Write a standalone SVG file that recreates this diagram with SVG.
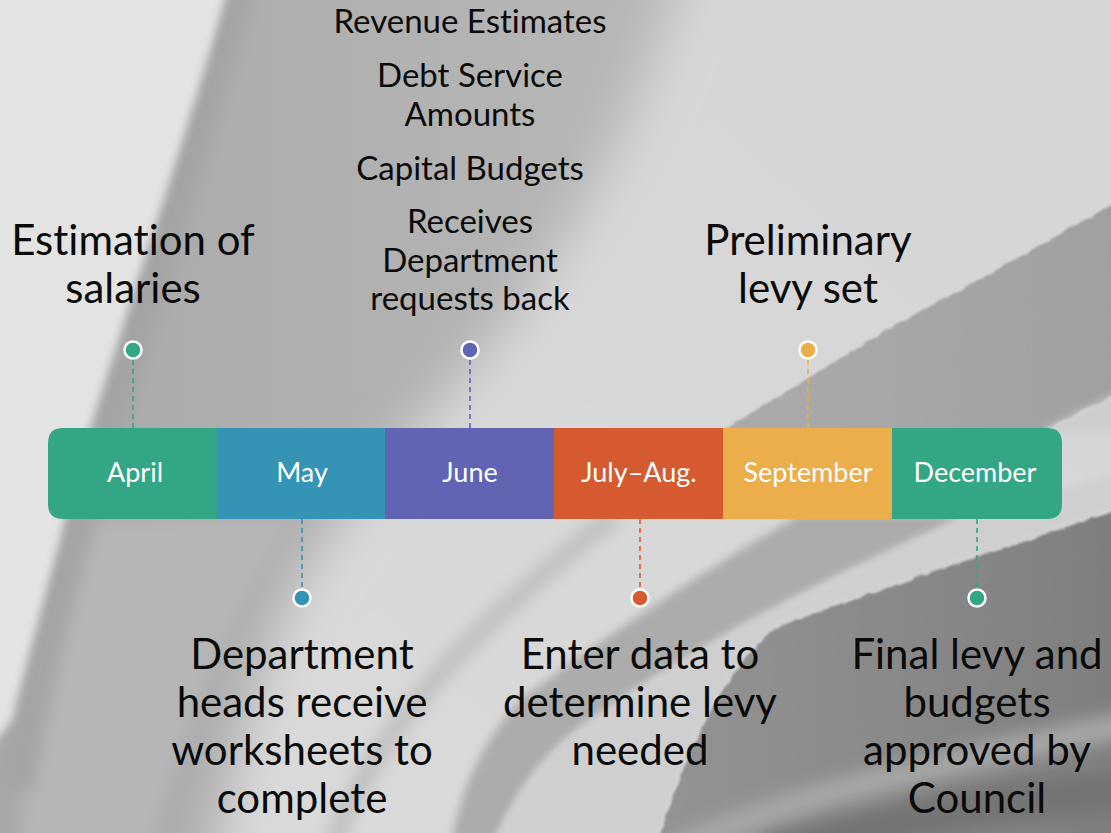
<svg xmlns="http://www.w3.org/2000/svg" width="1111" height="833" viewBox="0 0 1111 833">
  <style>
    text { font-variant-ligatures: none; }
    .big { font-family: Lato, "Liberation Sans", sans-serif; font-size: 42px; fill: #0a0a0a; text-anchor: middle; }
    .mid { font-family: Lato, "Liberation Sans", sans-serif; font-size: 33px; fill: #0a0a0a; text-anchor: middle; }
    .mon { font-family: Lato, "Liberation Sans", sans-serif; font-size: 27px; fill: #ffffff; text-anchor: middle; }
    .dot { stroke: #ffffff; stroke-width: 2.5; }
    .dash { stroke-width: 1.6; stroke-dasharray: 5 4; fill: none; }
  </style>
  <defs>
    <filter id="blur25" x="-30%" y="-30%" width="160%" height="160%"><feGaussianBlur stdDeviation="25"/></filter>
    <filter id="blur8" x="-30%" y="-30%" width="160%" height="160%"><feGaussianBlur stdDeviation="8"/></filter>
    <filter id="blur4" x="-30%" y="-30%" width="160%" height="160%"><feGaussianBlur stdDeviation="4"/></filter>
    <filter id="rough" x="-10%" y="-10%" width="120%" height="120%">
      <feTurbulence type="fractalNoise" baseFrequency="0.09" numOctaves="2" seed="3" result="n"/>
      <feDisplacementMap in="SourceGraphic" in2="n" scale="5" xChannelSelector="R" yChannelSelector="G" result="d"/>
      <feGaussianBlur in="d" stdDeviation="0.8"/>
    </filter>
    <linearGradient id="greyGrad" x1="0" y1="0" x2="1" y2="0">
      <stop offset="0" stop-color="#a8a8a8"/>
      <stop offset="0.45" stop-color="#b4b4b4"/>
      <stop offset="1" stop-color="#c2c2c2"/>
    </linearGradient>
    <linearGradient id="pageGrad" x1="0" y1="1" x2="1" y2="0">
      <stop offset="0" stop-color="#dadada"/>
      <stop offset="1" stop-color="#d5d5d5"/>
    </linearGradient>
    <linearGradient id="bandB" x1="0" y1="0" x2="1" y2="0">
      <stop offset="0" stop-color="#ababab"/>
      <stop offset="1" stop-color="#a0a0a0"/>
    </linearGradient>
    <linearGradient id="lowDark" x1="0" y1="0" x2="1" y2="0">
      <stop offset="0" stop-color="#949494"/>
      <stop offset="1" stop-color="#7e7e7e"/>
    </linearGradient>
  </defs>

  <!-- background: photo of fanned paper pages (approximation) -->
  <g id="background">
    <rect x="0" y="0" width="1111" height="833" fill="url(#greyGrad)"/>
    <!-- big light page, soft left edge -->
    <path d="M700,-80 L1250,-80 L1250,950 L200,950 C215,830 250,660 320,545 C390,450 470,380 540,280 C600,190 650,90 700,-80 Z" fill="url(#pageGrad)" filter="url(#blur25)"/>
    <!-- grey area in lower left -->
    <path d="M40,520 L290,520 C240,600 190,700 150,850 L20,850 C30,720 35,620 40,520 Z" fill="#b6b6b6" filter="url(#blur8)"/>
    <!-- shadow along left strip -->
    <path d="M240,-20 C200,120 140,320 90,480 C60,580 35,680 15,790" fill="none" stroke="#a4a4a4" stroke-width="36" filter="url(#blur8)"/>
    <!-- left light strip -->
    <path d="M-20,-20 L230,-20 C195,110 130,300 80,460 C55,560 32,640 12,720 L-20,760 Z" fill="#e3e3e3" filter="url(#blur4)"/>
    <!-- thin grey stripe in lower page -->
    <path d="M330,850 C370,750 430,660 615,515" fill="none" stroke="#c0c0c0" stroke-width="20" filter="url(#blur8)"/>
    <!-- dark band B below jagged edge A (above bar) -->
    <path d="M1130,195 L1000,268 L900,322 L800,383 L720,432 L1040,432 L1130,387 Z" fill="url(#bandB)" filter="url(#rough)"/>
    <!-- light sliver below band B -->
    <path d="M1040,432 L1130,387 L1130,432 Z" fill="#cdcdcd" filter="url(#blur4)"/>
    <!-- grey band d below bar -->
    <path d="M800,515 C720,560 600,640 520,700 C480,745 460,790 450,850 L492,850 C520,780 560,740 600,715 C680,660 760,610 970,515 Z" fill="#acacac" filter="url(#blur4)"/>
    <!-- light band e -->
    <path d="M970,515 L1130,470 L1130,508 C1080,520 1051,533 1000,550 C950,565 910,580 780,626 C730,660 690,740 655,850 L492,850 C520,780 560,740 600,715 C680,660 760,610 970,515 Z" fill="#cfcfcf" filter="url(#blur4)"/>
    <!-- dark region f (jagged edge) -->
    <path d="M1130,508 C1080,520 1051,533 1000,550 C950,565 910,580 780,626 C730,660 690,740 655,850 L1130,850 Z" fill="url(#lowDark)" filter="url(#rough)"/>
    <!-- lighter streak and darker corner in the lower right -->
    <path d="M675,850 C780,800 900,772 1130,724" fill="none" stroke="#a6a6a6" stroke-width="26" filter="url(#blur8)"/>
    <path d="M770,855 C900,820 1000,800 1130,790" fill="none" stroke="#757575" stroke-width="40" filter="url(#blur8)"/>
  </g>

  <!-- connectors -->
  <g id="connectors">
    <line class="dash" x1="133" y1="360" x2="133" y2="428" stroke="#33a685"/>
    <line class="dash" x1="470" y1="360" x2="470" y2="428" stroke="#6163b3"/>
    <line class="dash" x1="808" y1="360" x2="808" y2="428" stroke="#ecad4b"/>
    <line class="dash" x1="302" y1="519" x2="302" y2="588" stroke="#3593b5"/>
    <line class="dash" x1="640" y1="519" x2="640" y2="588" stroke="#d55a30"/>
    <line class="dash" x1="977" y1="519" x2="977" y2="588" stroke="#33a685"/>
  </g>

  <!-- timeline bar -->
  <g id="bar">
    <path id="april" d="M63,428 H217 V519 H63 Q48,519 48,504 V443 Q48,428 63,428 Z" fill="#33a685"/>
    <rect id="may" x="217" y="428" width="168" height="91" fill="#3593b5"/>
    <rect id="june" x="385" y="428" width="169" height="91" fill="#6163b3"/>
    <rect id="julyaug" x="554" y="428" width="169" height="91" fill="#d55a30"/>
    <rect id="september" x="723" y="428" width="169" height="91" fill="#ecad4b"/>
    <path id="december" d="M892,428 H1047 Q1062,428 1062,443 V504 Q1062,519 1047,519 H892 Z" fill="#33a685"/>
    <text class="mon" x="135" y="482">April</text>
    <text class="mon" x="302" y="482">May</text>
    <text class="mon" x="470" y="482">June</text>
    <text class="mon" x="639" y="482">July–Aug.</text>
    <text class="mon" x="808" y="482">September</text>
    <text class="mon" x="975" y="482">December</text>
  </g>

  <g id="node-april">
    <circle class="dot" cx="133" cy="350" r="8.5" fill="#33a685"/>
    <text class="big" x="133" y="255">Estimation of</text>
    <text class="big" x="133" y="303">salaries</text>
  </g>
  <g id="node-may">
    <circle class="dot" cx="302" cy="598" r="8.5" fill="#3593b5"/>
    <text class="big" x="302" y="669">Department</text>
    <text class="big" x="302" y="717">heads receive</text>
    <text class="big" x="302" y="765">worksheets to</text>
    <text class="big" x="302" y="813">complete</text>
  </g>
  <g id="node-june">
    <circle class="dot" cx="470" cy="350" r="8.5" fill="#6163b3"/>
    <text class="mid" x="470" y="33">Revenue Estimates</text>
    <text class="mid" x="470" y="87">Debt Service</text>
    <text class="mid" x="470" y="126">Amounts</text>
    <text class="mid" x="470" y="180">Capital Budgets</text>
    <text class="mid" x="470" y="233">Receives</text>
    <text class="mid" x="470" y="272">Department</text>
    <text class="mid" x="470" y="310">requests back</text>
  </g>
  <g id="node-julyaug">
    <circle class="dot" cx="640" cy="598" r="8.5" fill="#d55a30"/>
    <text class="big" x="640" y="669">Enter data to</text>
    <text class="big" x="640" y="717">determine levy</text>
    <text class="big" x="640" y="765">needed</text>
  </g>
  <g id="node-september">
    <circle class="dot" cx="808" cy="350" r="8.5" fill="#ecad4b"/>
    <text class="big" x="808" y="255">Preliminary</text>
    <text class="big" x="808" y="303">levy set</text>
  </g>
  <g id="node-december">
    <circle class="dot" cx="977" cy="598" r="8.5" fill="#33a685"/>
    <text class="big" x="977" y="669">Final levy and</text>
    <text class="big" x="977" y="717">budgets</text>
    <text class="big" x="977" y="765">approved by</text>
    <text class="big" x="977" y="813">Council</text>
  </g>
</svg>
